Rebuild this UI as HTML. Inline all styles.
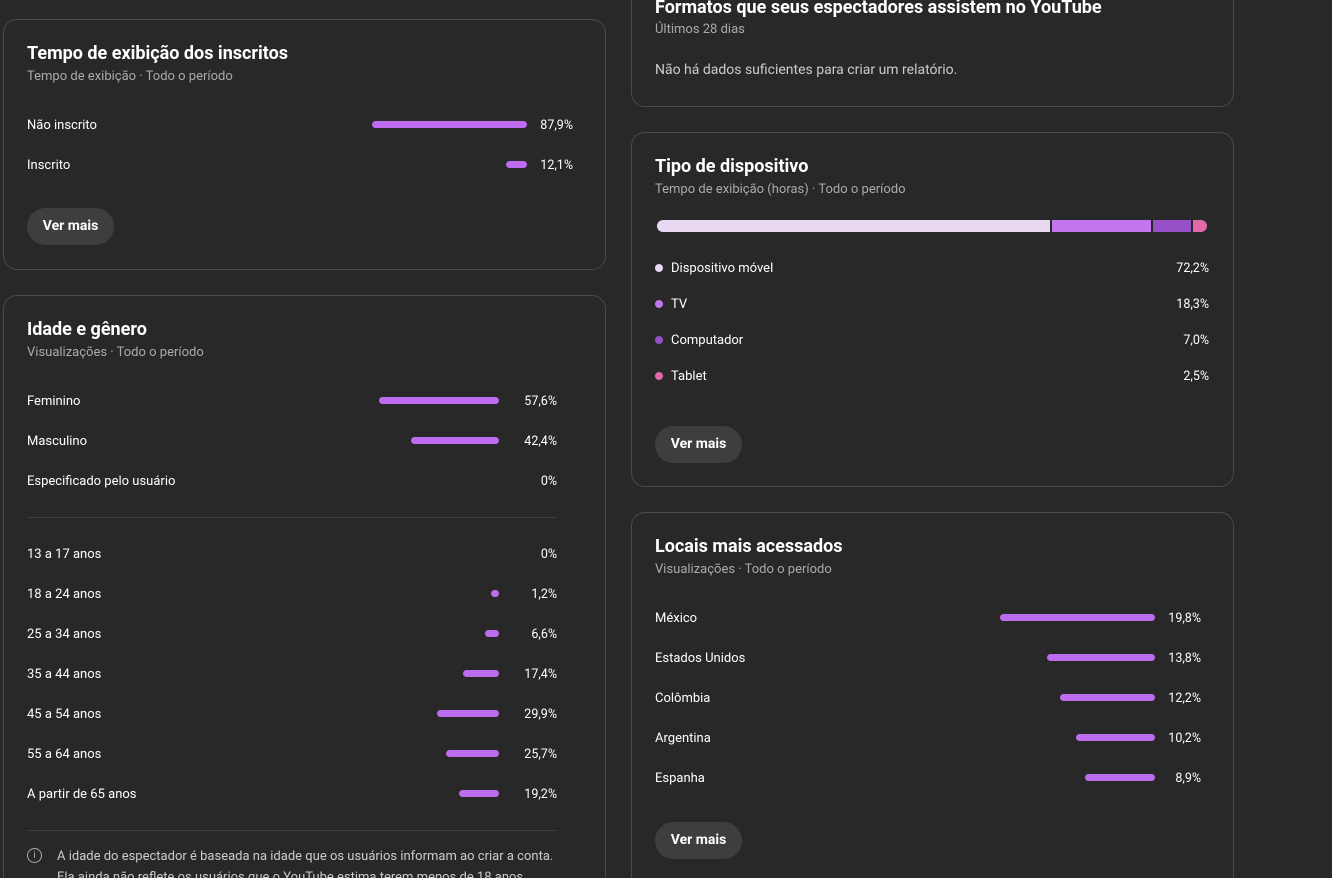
<!DOCTYPE html>
<html><head><meta charset="utf-8"><style>
*{margin:0;padding:0;box-sizing:border-box}
html{width:1332px;height:878px;overflow:hidden}
body{width:1332px;height:878px;background:#282828;overflow:hidden;position:relative;font-family:"Roboto","Liberation Sans",sans-serif;color:#f1f1f1}
.card{position:absolute;border:1px solid #4a4a4a;border-radius:14px;background:#282828}
.a{position:absolute;white-space:nowrap;margin-top:1px}
.t{font-size:18px;font-weight:bold;color:#fff}
.s{font-size:13px;color:#aaa}
.r{font-size:13px;color:#fff}
.v{font-size:12.5px;color:#fff;text-align:right}
.bar{position:absolute;height:7px;border-radius:4px;background:#bd6cf0}
.btn{position:absolute;width:87px;height:37px;border-radius:19px;background:#3e3e3e;color:#fff;font-size:14px;font-weight:bold;text-align:center;line-height:37px}
.dot{position:absolute;width:8px;height:8px;border-radius:50%}
.hr{position:absolute;height:1px;background:#404040}
</style></head><body>

<div class="card" style="left:3px;top:19px;width:603px;height:251px"></div>
<div class="a t" style="left:27px;top:42px">Tempo de exibição dos inscritos</div>
<div class="a s" style="left:27px;top:68px">Tempo de exibição · Todo o período</div>
<div class="a r" style="left:27px;top:117px">Não inscrito</div>
<div class="bar" style="left:372px;top:121px;width:155px"></div>
<div class="a v" style="right:759px;top:117px">87,9%</div>
<div class="a r" style="left:27px;top:157px">Inscrito</div>
<div class="bar" style="left:506px;top:161px;width:21px"></div>
<div class="a v" style="right:759px;top:157px">12,1%</div>
<div class="btn" style="left:27px;top:208px">Ver mais</div>

<div class="card" style="left:3px;top:295px;width:603px;height:620px"></div>
<div class="a t" style="left:27px;top:318px">Idade e gênero</div>
<div class="a s" style="left:27px;top:344px">Visualizações · Todo o período</div>
<div class="a r" style="left:27px;top:393px">Feminino</div><div class="bar" style="left:379px;top:397px;width:120px"></div><div class="a v" style="right:775px;top:393px">57,6%</div>
<div class="a r" style="left:27px;top:433px">Masculino</div><div class="bar" style="left:411px;top:437px;width:88px"></div><div class="a v" style="right:775px;top:433px">42,4%</div>
<div class="a r" style="left:27px;top:473px">Especificado pelo usuário</div><div class="a v" style="right:775px;top:473px">0%</div>
<div class="hr" style="left:27px;top:517px;width:530px"></div>
<div class="a r" style="left:27px;top:546px">13 a 17 anos</div><div class="a v" style="right:775px;top:546px">0%</div>
<div class="a r" style="left:27px;top:586px">18 a 24 anos</div><div class="bar" style="left:491px;top:590px;width:8px"></div><div class="a v" style="right:775px;top:586px">1,2%</div>
<div class="a r" style="left:27px;top:626px">25 a 34 anos</div><div class="bar" style="left:485px;top:630px;width:14px"></div><div class="a v" style="right:775px;top:626px">6,6%</div>
<div class="a r" style="left:27px;top:666px">35 a 44 anos</div><div class="bar" style="left:463px;top:670px;width:36px"></div><div class="a v" style="right:775px;top:666px">17,4%</div>
<div class="a r" style="left:27px;top:706px">45 a 54 anos</div><div class="bar" style="left:437px;top:710px;width:62px"></div><div class="a v" style="right:775px;top:706px">29,9%</div>
<div class="a r" style="left:27px;top:746px">55 a 64 anos</div><div class="bar" style="left:446px;top:750px;width:53px"></div><div class="a v" style="right:775px;top:746px">25,7%</div>
<div class="a r" style="left:27px;top:786px">A partir de 65 anos</div><div class="bar" style="left:459px;top:790px;width:40px"></div><div class="a v" style="right:775px;top:786px">19,2%</div>
<div class="hr" style="left:27px;top:830px;width:530px"></div>
<div class="a" style="left:27px;top:847px;width:15px;height:15px;border:1.3px solid #aaa;border-radius:50%;color:#aaa;font-size:10px;text-align:center;line-height:13px">i</div>
<div class="a" style="left:57px;top:848px;font-size:13px;color:#ccc">A idade do espectador é baseada na idade que os usuários informam ao criar a conta.</div>
<div class="a" style="left:57px;top:869px;font-size:13px;color:#ccc">Ela ainda não reflete os usuários que o YouTube estima terem menos de 18 anos.</div>

<div class="card" style="left:631px;top:-40px;width:603px;height:147px"></div>
<div class="a t" style="left:655px;top:-4px">Formatos que seus espectadores assistem no YouTube</div>
<div class="a s" style="left:655px;top:21px">Últimos 28 dias</div>
<div class="a" style="left:655px;top:61px;font-size:14px;color:#ccc">Não há dados suficientes para criar um relatório.</div>

<div class="card" style="left:631px;top:132px;width:603px;height:355px"></div>
<div class="a t" style="left:655px;top:155px">Tipo de dispositivo</div>
<div class="a s" style="left:655px;top:181px">Tempo de exibição (horas) · Todo o período</div>
<div class="a" style="left:657px;top:219px;width:393px;height:12px;background:#e8d8f2;border-radius:6px 0 0 6px"></div>
<div class="a" style="left:1052px;top:219px;width:99px;height:12px;background:#c375f0"></div>
<div class="a" style="left:1153px;top:219px;width:38px;height:12px;background:#9650c8"></div>
<div class="a" style="left:1193px;top:219px;width:14px;height:12px;background:#e069a8;border-radius:0 6px 6px 0"></div>
<div class="dot" style="left:655px;top:264px;background:#e8d8f2"></div><div class="a r" style="left:671px;top:260px">Dispositivo móvel</div><div class="a v" style="right:123px;top:260px">72,2%</div>
<div class="dot" style="left:655px;top:300px;background:#c375f0"></div><div class="a r" style="left:671px;top:296px">TV</div><div class="a v" style="right:123px;top:296px">18,3%</div>
<div class="dot" style="left:655px;top:336px;background:#9650c8"></div><div class="a r" style="left:671px;top:332px">Computador</div><div class="a v" style="right:123px;top:332px">7,0%</div>
<div class="dot" style="left:655px;top:372px;background:#e069a8"></div><div class="a r" style="left:671px;top:368px">Tablet</div><div class="a v" style="right:123px;top:368px">2,5%</div>
<div class="btn" style="left:655px;top:426px">Ver mais</div>

<div class="card" style="left:631px;top:512px;width:603px;height:400px"></div>
<div class="a t" style="left:655px;top:535px">Locais mais acessados</div>
<div class="a s" style="left:655px;top:561px">Visualizações · Todo o período</div>
<div class="a r" style="left:655px;top:610px">México</div><div class="bar" style="left:1000px;top:614px;width:155px"></div><div class="a v" style="right:131px;top:610px">19,8%</div>
<div class="a r" style="left:655px;top:650px">Estados Unidos</div><div class="bar" style="left:1047px;top:654px;width:108px"></div><div class="a v" style="right:131px;top:650px">13,8%</div>
<div class="a r" style="left:655px;top:690px">Colômbia</div><div class="bar" style="left:1060px;top:694px;width:95px"></div><div class="a v" style="right:131px;top:690px">12,2%</div>
<div class="a r" style="left:655px;top:730px">Argentina</div><div class="bar" style="left:1076px;top:734px;width:79px"></div><div class="a v" style="right:131px;top:730px">10,2%</div>
<div class="a r" style="left:655px;top:770px">Espanha</div><div class="bar" style="left:1085px;top:774px;width:70px"></div><div class="a v" style="right:131px;top:770px">8,9%</div>
<div class="btn" style="left:655px;top:822px">Ver mais</div>
</body></html>
